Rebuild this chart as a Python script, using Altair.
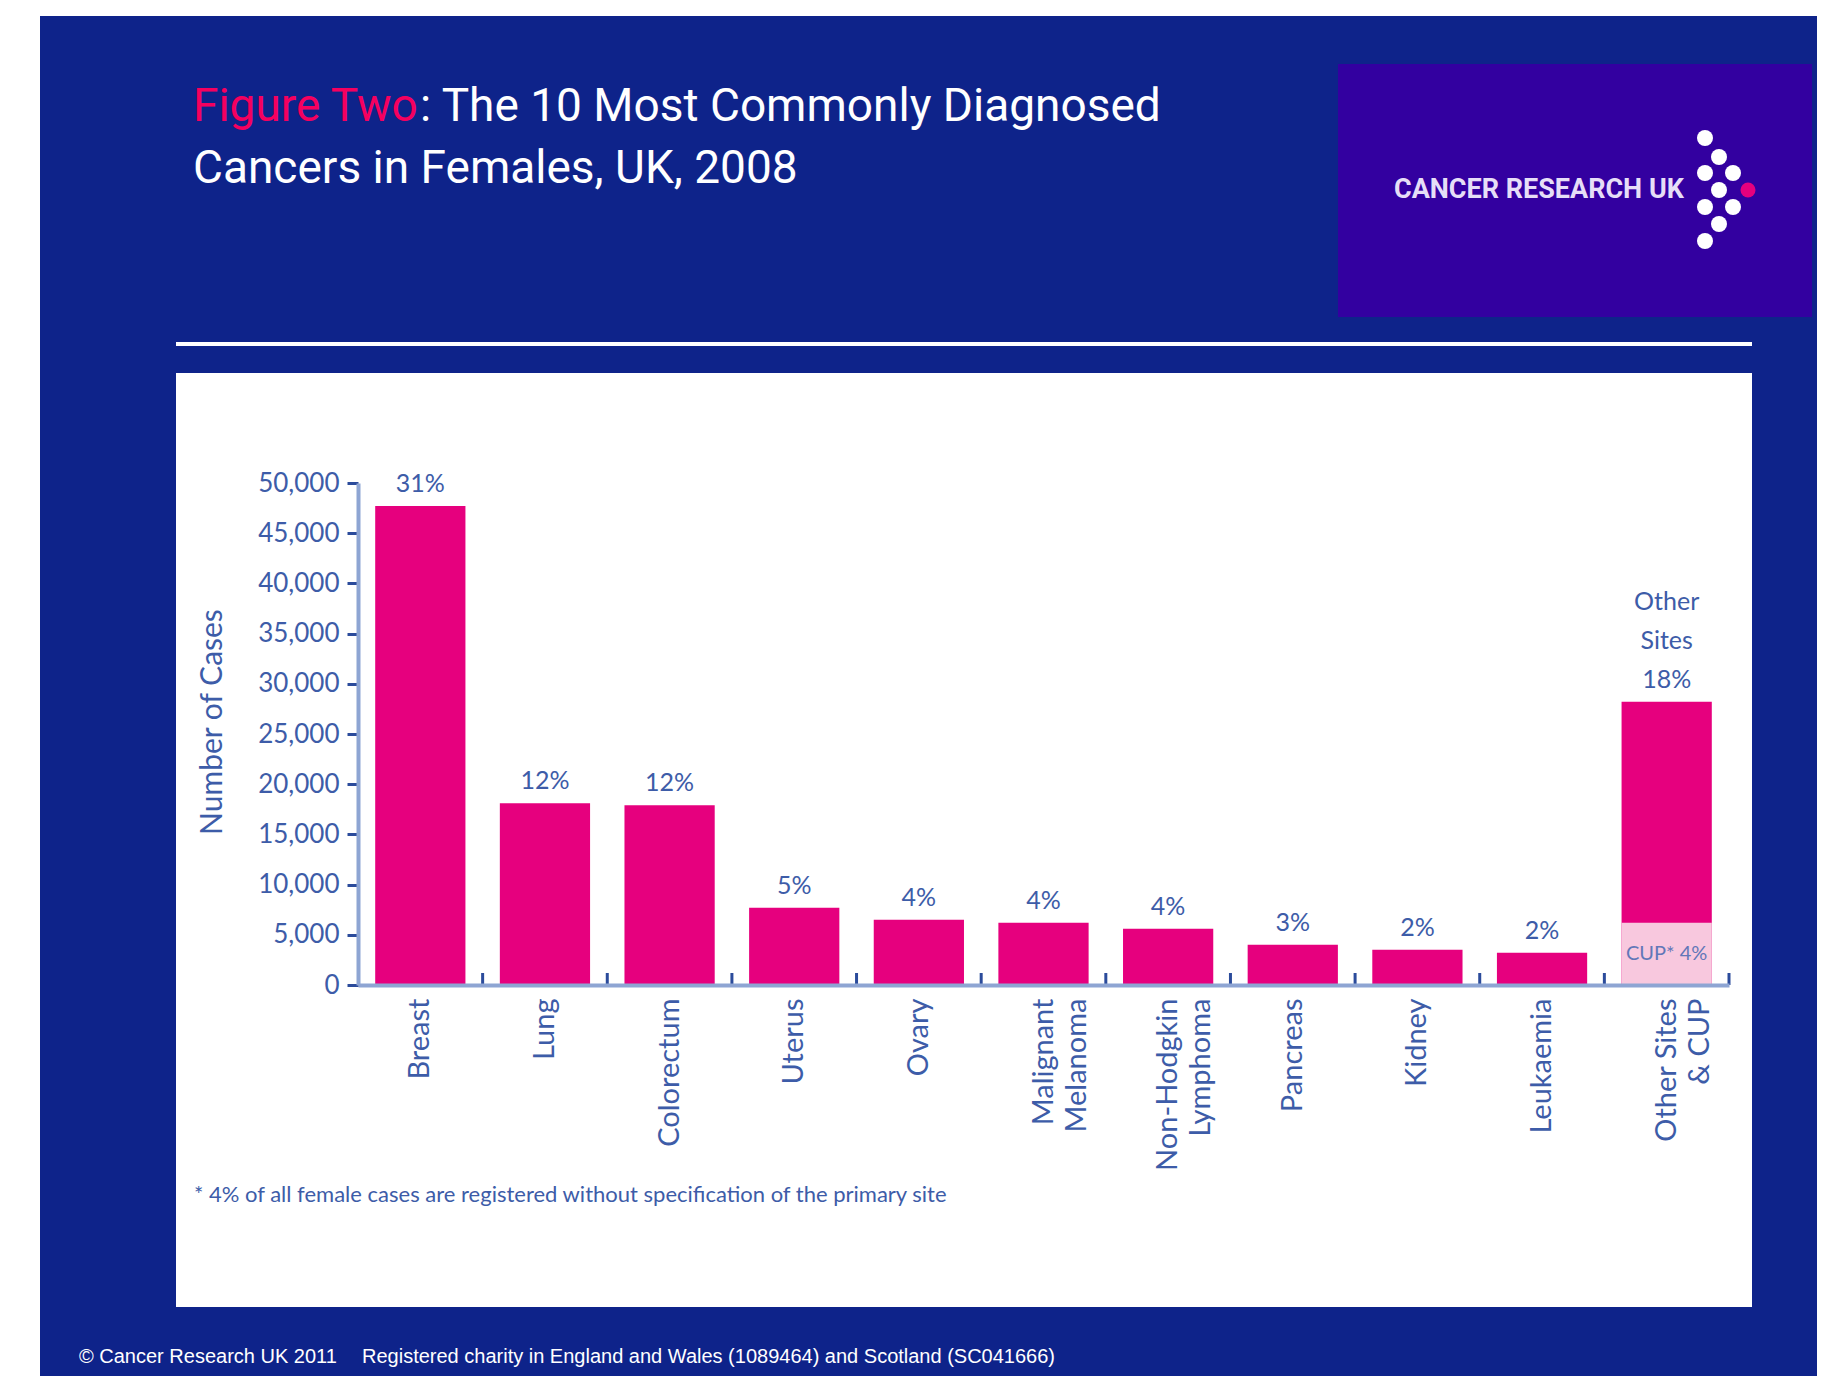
import altair as alt
import pandas as pd

# ---------------- data ----------------
categories = ["Breast", "Lung", "Colorectum", "Uterus", "Ovary",
              "Malignant|Melanoma", "Non-Hodgkin|Lymphoma", "Pancreas",
              "Kidney", "Leukaemia", "Other Sites|& CUP"]
cases = [47700, 18100, 17900, 7700, 6500, 6200, 5600, 4000, 3500, 3200, 28200]
cup_cases = [0, 0, 0, 0, 0, 0, 0, 0, 0, 0, 6200]
pct_labels = ["31%", "12%", "12%", "5%", "4%", "4%", "4%", "3%", "2%", "2%",
              "Other|Sites|18%"]
cup_label = "CUP* 4%"
y_tick_values = [0, 5000, 10000, 15000, 20000, 25000, 30000, 35000, 40000,
                 45000, 50000]

title_pink = "Figure Two"
title_rest = ": The 10 Most Commonly Diagnosed"
title_line2 = "Cancers in Females, UK, 2008"
y_title = "Number of Cases"
footnote = "* 4% of all female cases are registered without specification of the primary site"
footer_left = "\u00a9 Cancer Research UK 2011"
footer_right = "Registered charity in England and Wales (1089464) and Scotland (SC041666)"
logo_text = "CANCER RESEARCH UK"

# ---------------- layout / style ----------------
PLOT_W, PLOT_H = 1371, 502
PAD = {"left": 350, "top": 475, "right": 88, "bottom": 391}

BLUE = "#0E238A"
LOGO_BG = "#3300A0"
MAGENTA = "#E6007E"
LIGHT_PINK = "#F8C8DE"
TITLE_PINK = "#F5005F"
AX_TEXT = "#3D5CA8"
DOMAIN = "#8EA5D3"
TICK = "#2B4B9B"
CUP_TEXT = "#6277B8"

TITLE_FONT = "Roboto, Liberation Sans, sans-serif"
HUMAN = "Lato, Open Sans, sans-serif"
FOOT_FONT = "Liberation Sans, Arial, sans-serif"

df = pd.DataFrame({"cat": categories, "cases": cases, "cup": cup_cases,
                   "pct": pct_labels})
one = pd.DataFrame({"k": [0]})


def rect(x1, x2, y1, y2, color):
    return alt.Chart(one).mark_rect(color=color).encode(
        x=alt.value(x1), x2=alt.value(x2), y=alt.value(y1), y2=alt.value(y2))


def text(txt, x, y, **kw):
    return alt.Chart(one).mark_text(text=txt, **kw).encode(
        x=alt.value(x), y=alt.value(y))


x_scale = alt.Scale(paddingInner=0.276, paddingOuter=0.138)
x_axis = alt.Axis(title=None, labelAngle=270, labelAlign="right",
                  labelBaseline="middle", labelPadding=13, ticks=False,
                  labelExpr="split(datum.label, '|')", labelLineHeight=33,
                  labelFont=HUMAN, labelFontSize=29, labelColor=AX_TEXT,
                  labelLimit=400, domainColor=DOMAIN, domainWidth=4, zindex=1)
y_scale = alt.Scale(domain=[0, 50000], nice=False)
y_axis = alt.Axis(title=None, values=y_tick_values,
                  labelExpr="format(datum.value, ',.0f')", grid=False,
                  labelFont=HUMAN, labelFontSize=26, labelColor=AX_TEXT,
                  labelPadding=8, tickColor=TICK, tickWidth=3, tickSize=11,
                  domainColor=DOMAIN, domainWidth=4, zindex=1)

X = alt.X("cat:N", sort=categories, scale=x_scale, axis=x_axis)
base = alt.Chart(df)

# ---------------- decorations ----------------
deco = [
    rect(-360, -318, -485, 920, "#ffffff"),        # left white strip
    rect(-360, 1470, -485, -467, "#ffffff"),       # top white strip
    rect(-182, 1394, -141, -137, "#ffffff"),       # separator line
    rect(-182, 1394, -110, 824, "#ffffff"),        # white panel
    rect(980, 1454, -419, -166, LOGO_BG),          # logo box
    text(logo_text, 1036, -293, font=TITLE_FONT, fontSize=27,
         fontWeight="bold", color="#E6DEF7", align="left",
         baseline="middle"),
    text(title_pink, -165, -362, font=TITLE_FONT, fontSize=46,
         color=TITLE_PINK, align="left", baseline="alphabetic"),
    text(title_rest, 62, -362, font=TITLE_FONT, fontSize=46,
         color="#ffffff", align="left", baseline="alphabetic"),
    text(title_line2, -165, -300, font=TITLE_FONT, fontSize=46,
         color="#ffffff", align="left", baseline="alphabetic"),
    text(footer_left, -279, 874, font=FOOT_FONT, fontSize=20,
         color="#ffffff", align="left", baseline="middle"),
    text(footer_right, 4, 874, font=FOOT_FONT, fontSize=20,
         color="#ffffff", align="left", baseline="middle"),
    text(footnote, -164, 712, font=HUMAN, fontSize=22, color=AX_TEXT,
         align="left", baseline="middle"),
    text(y_title, -145, 239, font=HUMAN, fontSize=30, color=AX_TEXT,
         angle=270, align="center", baseline="middle"),
]

# logo dots (arrow of white dots + pink dot)
dot_x = [1347, 1361, 1347, 1375, 1361, 1347, 1375, 1361, 1347]
dot_y = [-345, -326, -310, -310, -293, -276, -276, -259, -242]
for dx_, dy_ in zip(dot_x, dot_y):
    deco.append(alt.Chart(one).mark_circle(size=256, color="#ffffff",
                                           opacity=1).encode(
        x=alt.value(dx_), y=alt.value(dy_)))
deco.append(alt.Chart(one).mark_circle(size=225, color=MAGENTA,
                                       opacity=1).encode(
    x=alt.value(1390), y=alt.value(-293)))

# ---------------- chart layers ----------------
bars = base.mark_bar(color=MAGENTA).encode(
    x=X, y=alt.Y("cases:Q", scale=y_scale, axis=y_axis))

cup_bar = base.transform_filter("datum.cup > 0").mark_bar(
    color=LIGHT_PINK).encode(
    x=X, y=alt.Y("cup:Q", scale=y_scale, axis=y_axis))

cup_text = base.transform_filter("datum.cup > 0").transform_calculate(
    mid="datum.cup / 2").mark_text(
    text=cup_label, font=HUMAN, fontSize=20, color=CUP_TEXT,
    baseline="middle").encode(
    x=X, y=alt.Y("mid:Q", scale=y_scale, axis=y_axis))

LINE_H = 39
pct_single = base.transform_filter(
    "indexof(datum.pct, '|') < 0").mark_text(
    font=HUMAN, fontSize=25, color=AX_TEXT, baseline="bottom",
    dy=-9).encode(
    x=X, y=alt.Y("cases:Q", scale=y_scale, axis=y_axis), text="pct:N")

pct_multi = base.transform_filter(
    "indexof(datum.pct, '|') >= 0").transform_calculate(
    lab="split(datum.pct, '|')").mark_text(
    font=HUMAN, fontSize=25, color=AX_TEXT, baseline="bottom",
    dy=-9 - 2 * LINE_H, lineHeight=LINE_H).encode(
    x=X, y=alt.Y("cases:Q", scale=y_scale, axis=y_axis), text="lab:N")

x_ticks = base.mark_rule(color=TICK, strokeWidth=3, xOffset=17.2).encode(
    x=alt.X("cat:N", sort=categories, scale=x_scale, axis=x_axis,
            bandPosition=1),
    y=alt.value(PLOT_H), y2=alt.value(PLOT_H - 12))

chart = alt.layer(*deco, bars, cup_bar, cup_text, pct_single, pct_multi,
                  x_ticks).properties(
    width=PLOT_W, height=PLOT_H,
    autosize=alt.AutoSizeParams(type="none"),
    padding=PAD,
).configure(background=BLUE).configure_view(stroke=None)

chart.save("out.html", embed_options={"renderer": "svg", "actions": False})
